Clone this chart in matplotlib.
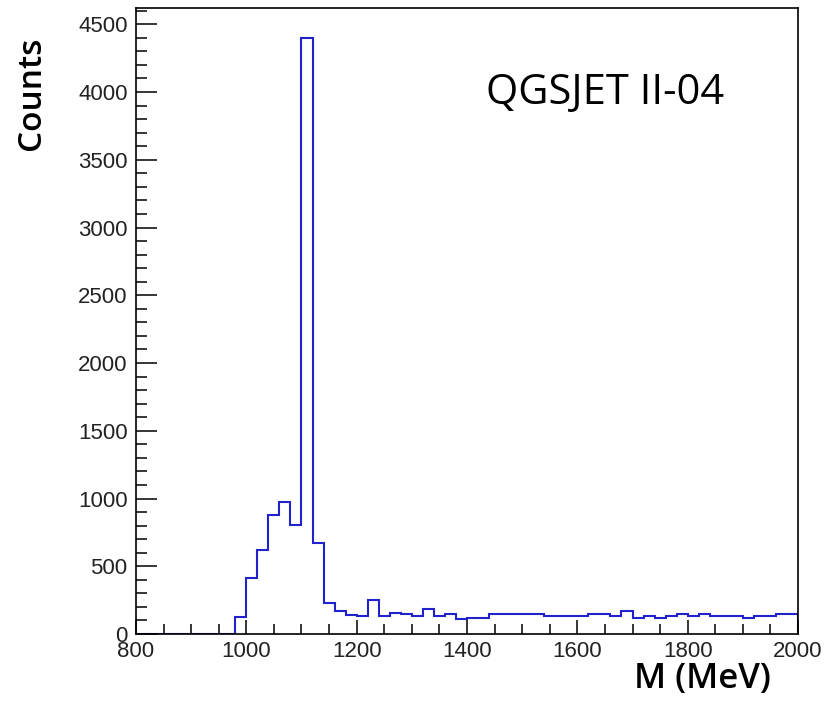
import numpy as np
import matplotlib
matplotlib.use("Agg")
import matplotlib.pyplot as plt
from matplotlib.ticker import MultipleLocator

# bin edges (20 MeV bins) and counts
edges = np.arange(800, 2001, 20)
counts = [0] * 9 + [
    123, 411, 619, 877, 973, 801, 4398, 674, 229, 170, 143, 133, 253,
    133, 157, 145, 133, 182, 133, 147, 108, 121, 121,
    147, 147, 147, 147, 147,
    133, 133, 133, 133,
    147, 147,
    133, 170, 121, 133, 121, 133, 147, 133, 147,
    133, 133, 133,
    121,
    133, 133,
    147, 147,
]
x_ticks = [800, 1000, 1200, 1400, 1600, 1800, 2000]
y_ticks = [0, 500, 1000, 1500, 2000, 2500, 3000, 3500, 4000, 4500]

fig = plt.figure(figsize=(8.26, 7.12), dpi=100)
ax = fig.add_axes([136 / 826, 1 - 634 / 712, (798 - 136) / 826, (634 - 8) / 712])

ax.stairs(counts, edges, color="#2222cc", linewidth=1.5, zorder=1)

ax.set_xlim(800, 2000)
ax.set_ylim(0, 4620)
ax.set_xticks(x_ticks)
ax.set_yticks(y_ticks)
ax.xaxis.set_minor_locator(MultipleLocator(50))
ax.yaxis.set_minor_locator(MultipleLocator(100))

for s in ax.spines.values():
    s.set_linewidth(1.2)

ax.tick_params(axis="both", which="both", direction="in", width=1.1,
               labelsize=16, top=False, right=False)
ax.tick_params(axis="x", which="major", length=10, pad=5)
ax.tick_params(axis="x", which="minor", length=7)
ax.tick_params(axis="y", which="major", length=15, pad=6)
ax.tick_params(axis="y", which="minor", length=8)
for lab in ax.get_xticklabels() + ax.get_yticklabels():
    lab.set_family("Liberation Sans")
    lab.set_color("#222222")

fig.text(31 / 826, 1 - 93 / 712, "Counts", rotation=90, ha="center", va="center",
         fontsize=24, fontweight="semibold", family="Open Sans")
fig.text(702 / 826, 1 - 679 / 712, "M (MeV)", ha="center", va="center",
         fontsize=25, fontweight="semibold", family="Open Sans")
fig.text(605 / 826, 1 - 93 / 712, "QGSJET II-04", ha="center", va="center",
         fontsize=30, family="Open Sans")

fig.savefig("out.png", dpi=100)
